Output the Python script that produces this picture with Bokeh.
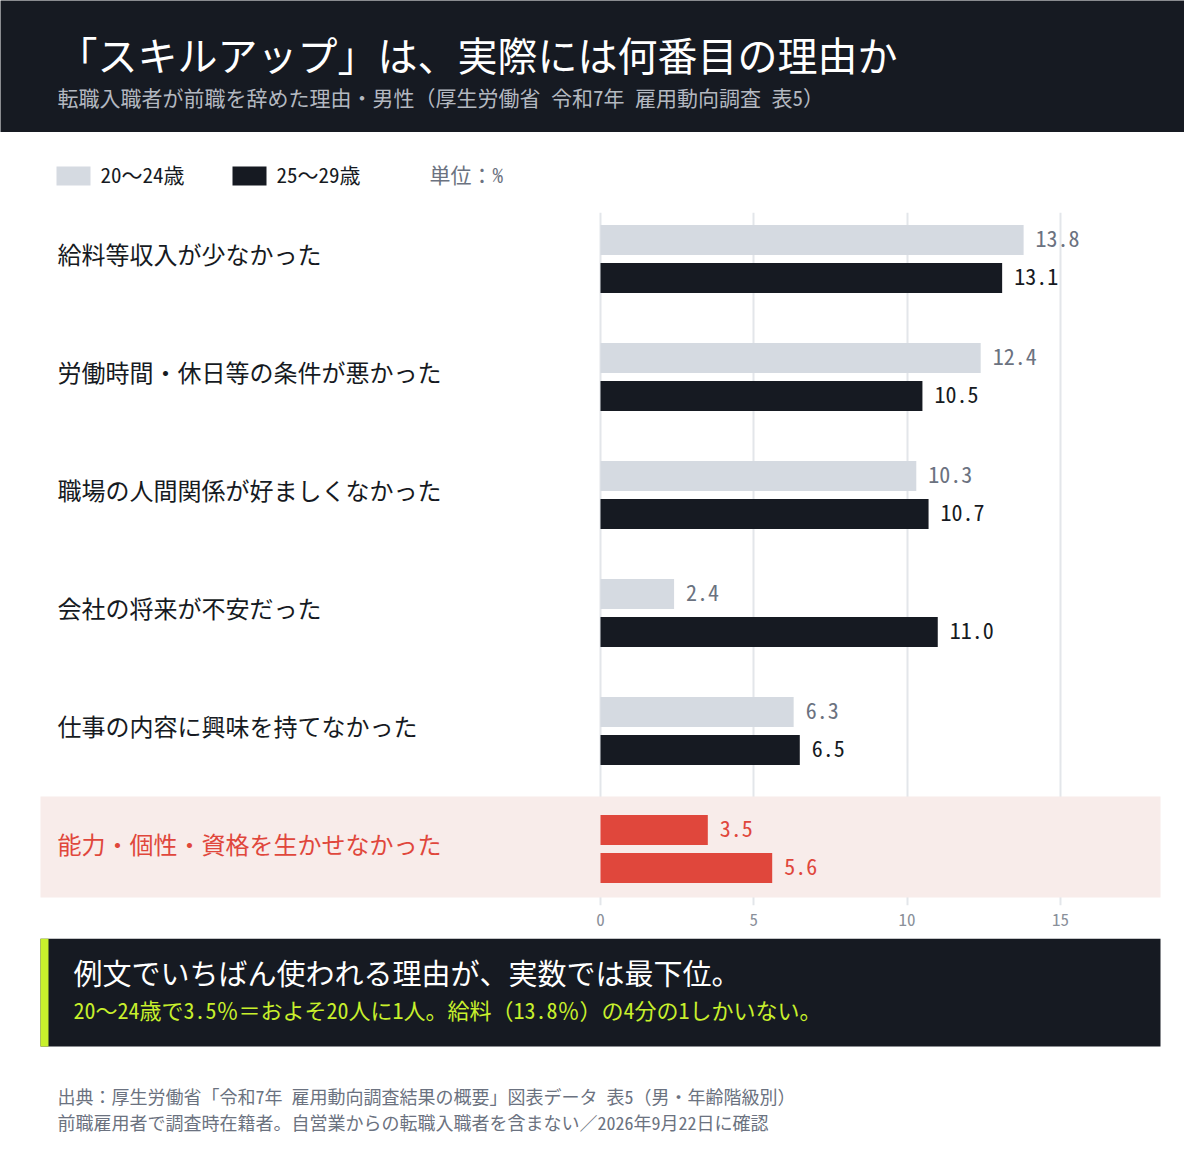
from bokeh.plotting import figure
from bokeh.layouts import column
from bokeh.models import Range1d, ColumnDataSource, FixedTicker
from bokeh.core.properties import value
from bokeh.embed import file_html
from bokeh.resources import INLINE

# ---------------- data ----------------
categories = [
    "給料等収入が少なかった",
    "労働時間・休日等の条件が悪かった",
    "職場の人間関係が好ましくなかった",
    "会社の将来が不安だった",
    "仕事の内容に興味を持てなかった",
    "能力・個性・資格を生かせなかった",
]
age_20_24 = [13.8, 12.4, 10.3, 2.4, 6.3, 3.5]
age_25_29 = [13.1, 10.5, 10.7, 11.0, 6.5, 5.6]
series_names = ["20～24歳", "25～29歳"]
highlight = "能力・個性・資格を生かせなかった"
x_ticks = [0, 5, 10, 15]

title_text = "「スキルアップ」は、実際には何番目の理由か"
subtitle_text = "転職入職者が前職を辞めた理由・男性（厚生労働省 令和7年 雇用動向調査 表5）"
unit_text = "単位：%"
callout_title = "例文でいちばん使われる理由が、実数では最下位。"
callout_sub = "20～24歳で3.5％＝およそ20人に1人。給料（13.8％）の4分の1しかいない。"
footer_lines = [
    "出典：厚生労働省「令和7年 雇用動向調査結果の概要」図表データ 表5（男・年齢階級別）",
    "前職雇用者で調査時在籍者。自営業からの転職入職者を含まない／2026年9月22日に確認",
]

# ---------------- style ----------------
FONT = "Noto Sans Mono CJK JP"
DARK = "#161a22"
LIGHT = "#d5dae1"
RED = "#e0473c"
BAND = "#f8ecea"
GRAY = "#6b7280"
TICK_GRAY = "#8a909a"
GRID = "#e3e6ea"
LIME = "#c8f02c"
W = 1184


def blank(height, y0, y1):
    f = figure(width=W, height=height, x_range=Range1d(0, W), y_range=Range1d(y1, y0),
               x_axis_type=None, y_axis_type=None, toolbar_location=None,
               output_backend="svg", min_border=0)
    f.outline_line_color = None
    f.grid.visible = False
    return f


# ---------------- header ----------------
h = blank(132, 0, 132)
h.background_fill_color = DARK
h.border_fill_color = DARK
h.text(x=[57], y=[53], text=[title_text], text_font=value(FONT), text_font_size="40px",
       text_color="#ffffff", text_baseline="middle", text_align="left")
h.text(x=[57], y=[96], text=[subtitle_text], text_font=value(FONT), text_font_size="21px",
       text_color="#b3b8c0", text_baseline="middle", text_align="left")

# ---------------- legend ----------------
lg = blank(68, 132, 200)
sw_left = [56, 232]
lg.quad(left=sw_left, right=[l + 34 for l in sw_left], top=[166, 166], bottom=[185, 185],
        fill_color=[LIGHT, DARK], line_color=None)
lg.text(x=[l + 44 for l in sw_left], y=[173, 173], text=series_names, text_font=value(FONT),
        text_font_size="21px", text_color=DARK, text_baseline="middle", text_align="left")
lg.text(x=[429], y=[173], text=[unit_text], text_font=value(FONT), text_font_size="21px",
        text_color=GRAY, text_baseline="middle", text_align="left")

# ---------------- chart ----------------
n = len(categories)
ppu = 153.3 / 5          # pixels per unit
zero_px = 600
xr = Range1d(-zero_px / ppu, (W - zero_px) / ppu)
yr = Range1d(5.479, -0.394)
c = figure(width=W, height=738, x_range=xr, y_range=yr, toolbar_location=None,
           output_backend="svg", y_axis_location=None,
           min_border_left=0, min_border_right=0, min_border_top=12, min_border_bottom=33)
c.outline_line_color = None
c.ygrid.visible = False
c.xgrid.grid_line_color = GRID
c.xgrid.grid_line_width = 2
c.xaxis.ticker = FixedTicker(ticks=x_ticks)
c.xaxis.axis_line_color = None
c.xaxis.major_tick_line_color = None
c.xaxis.minor_tick_line_color = None
c.xaxis.major_tick_out = 0
c.xaxis.major_tick_in = 0
c.xaxis.major_label_standoff = 7
c.xaxis.major_label_text_font = FONT
c.xaxis.major_label_text_font_size = "17px"
c.xaxis.major_label_text_color = TICK_GRAY

is_hl = [cat == highlight for cat in categories]
ypos = list(range(n))
off = 19 / 118
bar_h = 30 / 118

# highlight band (spans x 40..1160 px)
hl_y = [y for y, f in zip(ypos, is_hl) if f]
c.quad(left=[(40 - zero_px) / ppu] * len(hl_y), right=[(1160 - zero_px) / ppu] * len(hl_y),
       top=[y - 52.5 / 118 for y in hl_y], bottom=[y + 48.5 / 118 for y in hl_y],
       fill_color=BAND, line_color=None)

src = ColumnDataSource(dict(
    cat=categories,
    y=ypos,
    y1=[y - off for y in ypos],
    y2=[y + off for y in ypos],
    v1=age_20_24,
    v2=age_25_29,
    t1=[f"{v:.1f}" for v in age_20_24],
    t2=[f"{v:.1f}" for v in age_25_29],
    c1=[RED if f else LIGHT for f in is_hl],
    c2=[RED if f else DARK for f in is_hl],
    lc1=[RED if f else GRAY for f in is_hl],
    lc2=[RED if f else DARK for f in is_hl],
    cc=[RED if f else DARK for f in is_hl],
    lx=[(57 - zero_px) / ppu] * n,
))

c.hbar(y="y1", left=0, right="v1", height=bar_h, fill_color="c1", line_color=None, source=src)
c.hbar(y="y2", left=0, right="v2", height=bar_h, fill_color="c2", line_color=None, source=src)
c.text(x="v1", y="y1", text="t1", x_offset=12, y_offset=-1, text_color="lc1",
       text_font=value(FONT), text_font_size="22px", text_baseline="middle",
       text_align="left", source=src)
c.text(x="v2", y="y2", text="t2", x_offset=12, y_offset=-1, text_color="lc2",
       text_font=value(FONT), text_font_size="22px", text_baseline="middle",
       text_align="left", source=src)
c.text(x="lx", y="y", text="cat", y_offset=-5, text_color="cc", text_font=value(FONT),
       text_font_size="24px", text_baseline="middle", text_align="left", source=src)

# ---------------- callout + footer ----------------
d = blank(196, 938, 1134)
d.quad(left=[40], right=[1160], top=[938], bottom=[1046], fill_color=DARK, line_color=None)
d.quad(left=[40], right=[48], top=[938], bottom=[1046], fill_color=LIME, line_color=None)
d.text(x=[73], y=[971], text=[callout_title], text_font=value(FONT), text_font_size="29px",
       text_color="#ffffff", text_baseline="middle", text_align="left")
d.text(x=[73], y=[1008], text=[callout_sub], text_font=value(FONT), text_font_size="22px",
       text_color=LIME, text_baseline="middle", text_align="left")
d.text(x=[57, 57], y=[1095, 1121], text=footer_lines, text_font=value(FONT),
       text_font_size="18px", text_color=GRAY, text_baseline="middle", text_align="left")

layout = column(h, lg, c, d, spacing=0)
open("out.html", "w").write(file_html(layout, INLINE))
